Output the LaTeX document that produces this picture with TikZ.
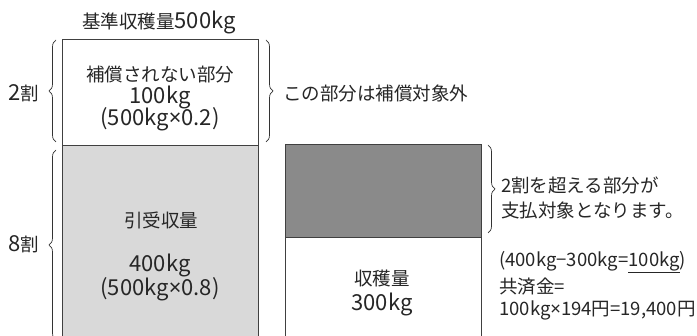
\documentclass[tikz,border=0pt]{standalone}
\usepackage{fontspec}
\setmainfont{Noto Sans CJK JP}
\newfontfamily\xfont{Noto Sans}
\usetikzlibrary{decorations.pathreplacing}
\definecolor{lightfill}{HTML}{D9D9D9}
\definecolor{darkfill}{HTML}{8A8A8A}
\newcommand\latbig[1]{{\fontsize{22}{22}\selectfont #1}}
\newcommand\tms{{\xfont ×}}
\tikzset{
  txt/.style={font=\fontsize{18.5}{21}\selectfont, inner sep=0pt, text=black!85},
  boxtxt/.style={txt, text height=15pt, text depth=3pt},
  boxline/.style={draw=black!75, line width=0.7pt},
  brc/.style={draw=black!80, line width=0.7pt, decorate, decoration={brace, amplitude=7pt, aspect=0.5}},
}
\begin{document}
\begin{tikzpicture}[x=1pt,y=-1pt]
\useasboundingbox (0,0) rectangle (697,336);
\fill[white] (0,0) rectangle (697,336);
% left boxes
\fill[lightfill] (62,145) rectangle (258,340);
\draw[boxline] (62,340) -- (62,39) -- (258,39) -- (258,340);
\draw[boxline] (62,145) -- (258,145);
% right boxes
\fill[darkfill] (285,144) rectangle (481,237);
\draw[boxline] (285,340) -- (285,144) -- (481,144) -- (481,340);
\draw[boxline] (285,237) -- (481,237);
% coordinates for braces
\coordinate (lb1) at (56,142);
\coordinate (lt1) at (56,40);
\coordinate (lb2) at (56,340);
\coordinate (lt2) at (56,150);
\coordinate (rt1) at (266,40);
\coordinate (rb1) at (266,142);
\coordinate (rt2) at (488,145);
\coordinate (rb2) at (488,233);
\draw[brc] (lb1) -- (lt1);
\draw[brc] (lb2) -- (lt2);
\draw[brc] (rt1) -- (rb1);
\draw[brc] (rt2) -- (rb2);
% texts
\node[txt] (title) at (159,22) {基準収穫量\latbig{500kg}};
\node[txt] (two) at (24,93) {\latbig{2}割};
\node[txt] (eight) at (24,244) {\latbig{8}割};
\node[boxtxt] (n1) at (160,76) {補償されない部分};
\node[boxtxt] (n2) at (160,97.5) {\latbig{100kg}};
\node[boxtxt] (n3) at (160,119.5) {\latbig{(500kg\tms 0.2)}};
\node[txt, anchor=west] (ex) at (283,93) {この部分は補償対象外};
\node[txt] (h1) at (161,220) {引受収量};
\node[boxtxt] (h2) at (160,266) {\latbig{400kg}};
\node[boxtxt] (h3) at (160,290) {\latbig{(500kg\tms 0.8)}};
\node[txt] (s1) at (382,278) {収穫量};
\node[txt] (s2) at (382,304) {\latbig{300kg}};
\node[txt, anchor=west] (p1) at (501,185) {2割を超える部分が};
\node[txt, anchor=west] (p2) at (501,210) {支払対象となります。};
\node[txt, anchor=west] (c1) at (499,262) {(400kg−300kg=\underline{100kg})};
\node[txt, anchor=west] (c2) at (499,287) {共済金=};
\node[txt, anchor=west] (c3) at (499,310) {100kg\tms 194円=19,400円};
\end{tikzpicture}
\end{document}
